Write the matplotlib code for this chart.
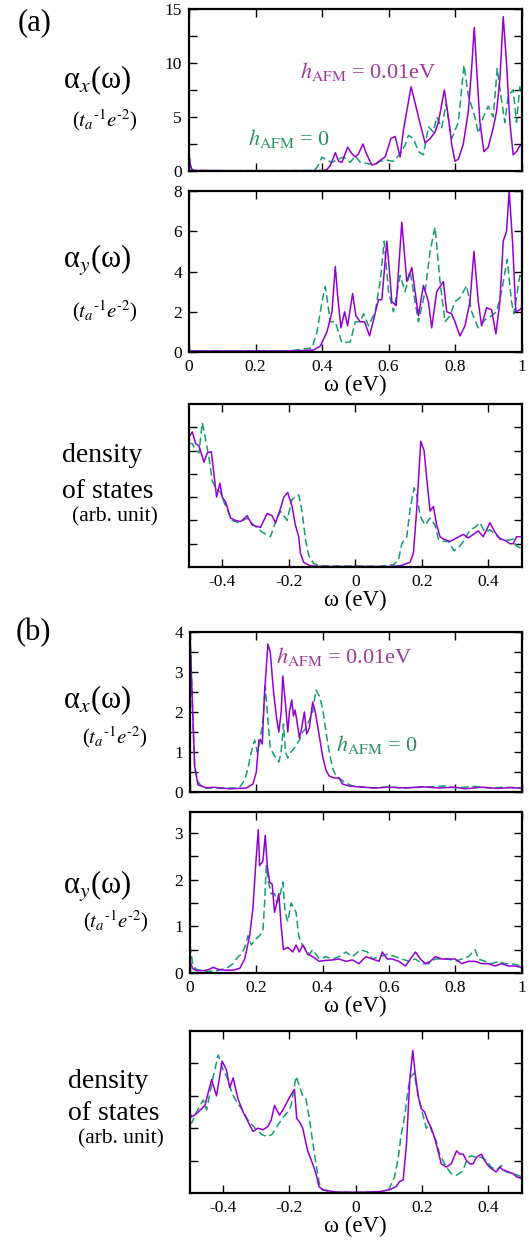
import numpy as np
import matplotlib
matplotlib.use("Agg")
import matplotlib.pyplot as plt
from matplotlib.ticker import MultipleLocator

plt.rcParams['font.family'] = ['Liberation Serif', 'DejaVu Serif']
plt.rcParams['mathtext.fontset'] = 'stix'

# (omega, value) points
# panel (a): alpha_x, solid = h_AFM 0.01eV, dashed = h_AFM 0
a_x_on = [(0, 1.4), (0.004, 0.6), (0.008, 0.15), (0.015, 0.05), (0.1, 0.03), (0.3, 0.03), (0.38, 0.03),
          (0.405, 0.05), (0.415, 0.15), (0.425, 0.5), (0.44, 1.7), (0.45, 0.9), (0.46, 0.8), (0.477, 2.2),
          (0.49, 1.6), (0.50, 1.3), (0.51, 1.6), (0.523, 2.5), (0.535, 1.5), (0.55, 0.55), (0.565, 0.7),
          (0.575, 1.0), (0.59, 1.3), (0.607, 3.0), (0.62, 3.2), (0.635, 1.3), (0.645, 3.8), (0.653, 5.2),
          (0.668, 7.8), (0.68, 6.3), (0.695, 4.4), (0.71, 2.6), (0.725, 3.0), (0.74, 3.6), (0.75, 4.5),
          (0.768, 7.5), (0.78, 5.0), (0.79, 2.5), (0.80, 0.9), (0.81, 1.1), (0.825, 2.5), (0.84, 5.5),
          (0.85, 9.5), (0.858, 13.3), (0.866, 9.0), (0.875, 4.5), (0.887, 1.8), (0.90, 2.2), (0.915, 4.0),
          (0.925, 5.5), (0.935, 8.5), (0.945, 14.3), (0.955, 10.0), (0.965, 4.5), (0.975, 1.5),
          (0.985, 1.8), (0.995, 2.35), (1.0, 2.4)]
a_x_off = [(0, 1.5), (0.004, 0.7), (0.008, 0.2), (0.015, 0.05), (0.1, 0.03), (0.3, 0.03), (0.36, 0.05),
           (0.38, 0.15), (0.39, 0.6), (0.40, 1.3), (0.415, 1.0), (0.43, 0.8), (0.45, 1.1), (0.465, 1.3),
           (0.485, 0.8), (0.50, 1.4), (0.515, 0.8), (0.535, 0.7), (0.555, 0.6), (0.575, 0.9), (0.595, 1.0),
           (0.615, 0.9), (0.635, 1.6), (0.65, 2.4), (0.66, 3.3), (0.675, 3.0), (0.69, 1.8), (0.705, 1.5),
           (0.72, 4.1), (0.735, 3.6), (0.745, 5.0), (0.76, 4.0), (0.773, 6.2), (0.79, 3.0), (0.81, 4.5),
           (0.827, 9.8), (0.84, 7.0), (0.86, 5.0), (0.87, 3.5), (0.885, 5.0), (0.90, 6.0), (0.915, 5.0),
           (0.927, 9.5), (0.94, 6.5), (0.95, 4.5), (0.96, 7.0), (0.975, 7.5), (0.985, 4.5), (0.995, 7.8),
           (1.0, 7.5)]

# panel (a): alpha_y
a_y_on = [(0, 0.05), (0.3, 0.05), (0.375, 0.1), (0.395, 0.3), (0.415, 1.0), (0.43, 2.0), (0.44, 4.25),
          (0.447, 2.8), (0.457, 1.2), (0.468, 2.0), (0.477, 1.3), (0.492, 2.9), (0.502, 1.8), (0.515, 1.5),
          (0.528, 1.5), (0.543, 0.8), (0.555, 1.6), (0.57, 2.6), (0.58, 2.6), (0.595, 5.5), (0.603, 4.0),
          (0.61, 2.5), (0.623, 2.3), (0.64, 6.45), (0.655, 3.5), (0.67, 4.2), (0.68, 3.0), (0.69, 1.8),
          (0.705, 3.3), (0.72, 2.5), (0.73, 1.2), (0.745, 3.0), (0.765, 3.5), (0.775, 2.0), (0.79, 1.9),
          (0.80, 1.5), (0.815, 0.8), (0.83, 1.3), (0.845, 2.5), (0.857, 5.0), (0.87, 2.5), (0.88, 1.3),
          (0.895, 2.2), (0.91, 2.1), (0.923, 0.9), (0.935, 2.5), (0.945, 5.5), (0.955, 6.0), (0.963, 8.0),
          (0.973, 5.5), (0.983, 2.0), (0.995, 2.1), (1.0, 2.2)]
a_y_off = [(0, 0.05), (0.3, 0.05), (0.37, 0.2), (0.385, 1.0), (0.40, 2.5), (0.41, 3.25), (0.425, 1.5),
           (0.44, 1.5), (0.46, 0.45), (0.485, 0.5), (0.50, 1.5), (0.515, 1.5), (0.525, 1.9), (0.54, 1.3),
           (0.56, 2.0), (0.575, 3.5), (0.587, 5.5), (0.60, 3.0), (0.615, 2.0), (0.635, 3.8), (0.65, 3.0),
           (0.665, 4.0), (0.675, 3.0), (0.69, 1.5), (0.71, 3.0), (0.725, 5.0), (0.74, 6.2), (0.755, 3.5),
           (0.77, 1.5), (0.785, 1.8), (0.80, 2.5), (0.815, 2.7), (0.835, 3.3), (0.85, 2.0), (0.87, 1.2),
           (0.89, 1.6), (0.91, 1.8), (0.925, 2.0), (0.94, 3.0), (0.957, 4.6), (0.97, 2.5), (0.977, 1.9),
           (0.995, 3.8), (1.0, 3.6)]

# panel (a): density of states
a_dos_on = [(-0.5, 5.6), (-0.49, 5.8), (-0.48, 5.3), (-0.47, 5.2), (-0.455, 4.5), (-0.445, 4.9),
            (-0.433, 4.95), (-0.425, 4.0), (-0.417, 3.0), (-0.407, 3.6), (-0.40, 3.0), (-0.39, 2.8),
            (-0.375, 2.1), (-0.36, 2.0), (-0.345, 1.95), (-0.325, 2.2), (-0.31, 1.8), (-0.285, 1.7),
            (-0.265, 2.3), (-0.25, 2.2), (-0.24, 1.9), (-0.225, 2.5), (-0.215, 3.0), (-0.203, 3.2),
            (-0.19, 2.6), (-0.18, 1.8), (-0.17, 1.3), (-0.165, 0.6), (-0.155, 0.2), (-0.135, 0.05),
            (-0.1, 0.02), (0.1, 0.02), (0.135, 0.05), (0.165, 0.2), (0.175, 0.6), (0.185, 2.5),
            (0.197, 5.4), (0.207, 5.0), (0.215, 3.8), (0.225, 2.4), (0.235, 2.6), (0.245, 1.8),
            (0.255, 1.3), (0.265, 1.2), (0.285, 1.1), (0.305, 1.25), (0.325, 1.4), (0.34, 1.25),
            (0.355, 1.4), (0.37, 1.55), (0.385, 1.3), (0.395, 1.6), (0.405, 1.9), (0.42, 1.5),
            (0.435, 1.2), (0.45, 1.15), (0.465, 1.0), (0.475, 1.0), (0.485, 1.3), (0.5, 1.3)]
a_dos_off = [(-0.5, 5.3), (-0.49, 5.3), (-0.48, 5.0), (-0.47, 4.9), (-0.46, 6.2), (-0.453, 5.7),
             (-0.44, 4.7), (-0.43, 3.7), (-0.42, 3.4), (-0.405, 3.2), (-0.395, 2.8), (-0.38, 2.3),
             (-0.37, 2.0), (-0.35, 1.9), (-0.325, 2.1), (-0.305, 1.8), (-0.28, 1.5), (-0.255, 1.3),
             (-0.24, 1.9), (-0.225, 2.4), (-0.205, 2.0), (-0.19, 2.9), (-0.17, 3.1), (-0.16, 2.4),
             (-0.15, 1.2), (-0.14, 0.5), (-0.125, 0.15), (-0.105, 0.05), (0.075, 0.03), (0.115, 0.1),
             (0.13, 0.3), (0.14, 1.0), (0.155, 1.3), (0.165, 2.5), (0.177, 3.4), (0.185, 3.1),
             (0.195, 2.2), (0.21, 1.8), (0.225, 2.1), (0.24, 1.8), (0.25, 1.2), (0.265, 1.1),
             (0.28, 1.1), (0.297, 0.7), (0.315, 0.9), (0.33, 1.2), (0.345, 1.6), (0.36, 1.7),
             (0.375, 1.9), (0.39, 1.5), (0.405, 1.6), (0.425, 1.35), (0.44, 1.2), (0.46, 1.15),
             (0.475, 1.2), (0.485, 0.9), (0.5, 0.8)]

# panel (b): alpha_x
b_x_on = [(0, 3.9), (0.004, 3.0), (0.009, 1.8), (0.014, 0.65), (0.024, 0.18), (0.05, 0.1), (0.07, 0.12),
          (0.12, 0.08), (0.17, 0.1), (0.19, 0.2), (0.2, 0.5), (0.208, 1.3), (0.213, 1.3), (0.218, 1.2),
          (0.225, 2.5), (0.235, 3.7), (0.242, 3.5), (0.252, 2.5), (0.262, 1.8), (0.268, 1.5), (0.275, 2.0),
          (0.28, 2.9), (0.288, 2.2), (0.295, 1.5), (0.30, 2.0), (0.307, 2.3), (0.312, 1.9), (0.317, 2.05),
          (0.322, 1.8), (0.33, 1.35), (0.337, 1.6), (0.345, 2.0), (0.352, 1.45), (0.36, 1.6), (0.37, 2.25),
          (0.378, 2.0), (0.39, 1.4), (0.40, 0.9), (0.41, 0.55), (0.42, 0.4), (0.435, 0.35), (0.45, 0.35),
          (0.46, 0.2), (0.48, 0.15), (0.52, 0.12), (0.56, 0.1), (0.6, 0.12), (0.65, 0.1), (0.7, 0.13),
          (0.75, 0.1), (0.8, 0.12), (0.83, 0.08), (0.88, 0.12), (0.93, 0.09), (0.97, 0.11), (1.0, 0.09)]
b_x_off = [(0, 4.0), (0.006, 2.5), (0.014, 0.6), (0.024, 0.25), (0.04, 0.1), (0.14, 0.1), (0.15, 0.12),
           (0.165, 0.3), (0.175, 0.6), (0.185, 1.0), (0.195, 1.3), (0.203, 1.0), (0.21, 1.2), (0.22, 1.8),
           (0.227, 2.65), (0.235, 1.8), (0.242, 1.1), (0.255, 0.9), (0.268, 0.75), (0.275, 1.0),
           (0.282, 1.7), (0.288, 1.0), (0.295, 0.85), (0.305, 1.0), (0.315, 1.1), (0.33, 1.3), (0.34, 1.5),
           (0.35, 1.6), (0.36, 1.8), (0.37, 2.0), (0.38, 2.55), (0.39, 2.4), (0.40, 2.1), (0.41, 1.5),
           (0.42, 1.0), (0.43, 0.6), (0.44, 0.4), (0.45, 0.35), (0.465, 0.25), (0.49, 0.15), (0.52, 0.13),
           (0.55, 0.1), (0.6, 0.13), (0.64, 0.1), (0.7, 0.12), (0.77, 0.15), (0.8, 0.1), (0.86, 0.14),
           (0.9, 0.1), (0.95, 0.12), (1.0, 0.1)]

# panel (b): alpha_y
b_y_on = [(0, 0.25), (0.008, 0.1), (0.02, 0.05), (0.04, 0.05), (0.055, 0.07), (0.07, 0.12), (0.085, 0.08),
          (0.105, 0.06), (0.13, 0.06), (0.15, 0.1), (0.165, 0.3), (0.18, 0.8), (0.19, 1.4), (0.198, 2.3),
          (0.206, 3.07), (0.21, 2.3), (0.22, 2.4), (0.227, 2.95), (0.233, 2.3), (0.24, 1.95), (0.248, 1.9),
          (0.255, 1.3), (0.262, 1.5), (0.268, 1.7), (0.275, 1.0), (0.282, 0.5), (0.295, 0.55), (0.31, 0.45),
          (0.32, 0.6), (0.33, 0.45), (0.34, 0.6), (0.355, 0.4), (0.37, 0.35), (0.39, 0.25), (0.41, 0.27),
          (0.43, 0.28), (0.45, 0.3), (0.47, 0.25), (0.49, 0.28), (0.51, 0.2), (0.53, 0.35), (0.55, 0.3),
          (0.57, 0.25), (0.58, 0.45), (0.595, 0.3), (0.61, 0.3), (0.63, 0.25), (0.65, 0.15), (0.665, 0.3),
          (0.68, 0.45), (0.695, 0.3), (0.71, 0.2), (0.725, 0.25), (0.74, 0.35), (0.76, 0.3), (0.78, 0.3),
          (0.80, 0.3), (0.82, 0.2), (0.84, 0.25), (0.86, 0.25), (0.88, 0.2), (0.90, 0.2), (0.92, 0.15),
          (0.94, 0.2), (0.96, 0.15), (0.98, 0.15), (1.0, 0.12)]
b_y_off = [(0, 0.6), (0.008, 0.2), (0.018, 0.08), (0.05, 0.03), (0.08, 0.05), (0.11, 0.1), (0.13, 0.2),
           (0.145, 0.35), (0.155, 0.4), (0.165, 0.55), (0.175, 0.8), (0.185, 0.6), (0.195, 0.7),
           (0.21, 0.8), (0.22, 0.9), (0.225, 1.5), (0.23, 2.3), (0.235, 2.0), (0.245, 1.7), (0.255, 1.7),
           (0.262, 1.5), (0.27, 1.6), (0.28, 1.95), (0.287, 1.3), (0.295, 1.1), (0.305, 1.5), (0.32, 1.3),
           (0.328, 0.8), (0.335, 0.65), (0.345, 0.55), (0.36, 0.4), (0.37, 0.5), (0.39, 0.3), (0.41, 0.35),
           (0.43, 0.3), (0.45, 0.35), (0.47, 0.45), (0.49, 0.35), (0.515, 0.5), (0.535, 0.45), (0.55, 0.3),
           (0.57, 0.35), (0.595, 0.4), (0.62, 0.35), (0.64, 0.3), (0.66, 0.25), (0.68, 0.3), (0.70, 0.2),
           (0.72, 0.2), (0.74, 0.3), (0.76, 0.3), (0.78, 0.3), (0.80, 0.25), (0.82, 0.3), (0.84, 0.35),
           (0.86, 0.5), (0.87, 0.3), (0.89, 0.25), (0.91, 0.2), (0.93, 0.25), (0.95, 0.2), (0.97, 0.2),
           (1.0, 0.15)]

# panel (b): density of states
b_dos_on = [(-0.5, 2.45), (-0.495, 2.35), (-0.48, 2.45), (-0.455, 2.7), (-0.435, 3.5), (-0.42, 3.0),
            (-0.403, 4.07), (-0.39, 3.8), (-0.38, 3.25), (-0.37, 3.55), (-0.355, 2.9), (-0.34, 2.5),
            (-0.325, 2.2), (-0.31, 1.9), (-0.295, 2.0), (-0.28, 1.95), (-0.265, 2.05), (-0.255, 2.25),
            (-0.245, 2.7), (-0.23, 2.4), (-0.215, 2.65), (-0.2, 2.95), (-0.185, 3.2), (-0.178, 2.3),
            (-0.17, 2.2), (-0.16, 2.0), (-0.145, 1.3), (-0.13, 0.9), (-0.12, 0.6), (-0.111, 0.2),
            (-0.1, 0.1), (-0.06, 0.03), (0.0, 0.02), (0.07, 0.04), (0.102, 0.1), (0.122, 0.2),
            (0.132, 0.35), (0.143, 0.4), (0.153, 1.5), (0.163, 3.5), (0.172, 4.4), (0.178, 3.8),
            (0.188, 3.0), (0.198, 2.6), (0.208, 2.5), (0.218, 2.2), (0.228, 2.0), (0.238, 1.7),
            (0.248, 1.3), (0.258, 0.9), (0.273, 0.8), (0.288, 0.9), (0.304, 1.3), (0.314, 1.2),
            (0.324, 1.2), (0.334, 1.0), (0.344, 0.9), (0.354, 0.9), (0.364, 1.1), (0.379, 1.2),
            (0.389, 1.0), (0.399, 0.85), (0.409, 0.75), (0.424, 0.65), (0.435, 0.8), (0.445, 0.7),
            (0.46, 0.65), (0.475, 0.6), (0.485, 0.5), (0.5, 0.45)]
b_dos_off = [(-0.5, 2.2), (-0.495, 2.16), (-0.48, 2.5), (-0.46, 2.87), (-0.45, 2.56), (-0.43, 3.58),
             (-0.415, 4.26), (-0.40, 3.8), (-0.385, 3.5), (-0.374, 3.1), (-0.359, 2.8), (-0.344, 2.6),
             (-0.325, 2.25), (-0.304, 2.0), (-0.283, 1.8), (-0.268, 1.75), (-0.253, 1.8), (-0.238, 2.05),
             (-0.218, 2.35), (-0.205, 2.5), (-0.195, 2.7), (-0.18, 3.6), (-0.17, 3.3), (-0.16, 3.0),
             (-0.15, 2.9), (-0.14, 2.3), (-0.13, 1.6), (-0.12, 0.9), (-0.11, 0.3), (-0.1, 0.1),
             (-0.07, 0.02), (0.09, 0.02), (0.102, 0.15), (0.117, 0.5), (0.127, 1.0), (0.137, 1.8),
             (0.148, 2.4), (0.158, 3.2), (0.166, 3.6), (0.176, 3.7), (0.185, 3.2), (0.193, 2.8),
             (0.203, 2.4), (0.213, 2.0), (0.223, 2.1), (0.233, 1.8), (0.243, 1.6), (0.253, 1.2),
             (0.263, 1.0), (0.273, 0.8), (0.288, 0.6), (0.304, 0.55), (0.319, 0.65), (0.329, 0.85),
             (0.339, 1.1), (0.349, 1.15), (0.364, 1.1), (0.379, 1.1), (0.394, 1.0), (0.409, 0.8),
             (0.424, 0.7), (0.439, 0.85), (0.455, 0.65), (0.475, 0.6), (0.5, 0.5)]

w_ticks = [0, 0.2, 0.4, 0.6, 0.8, 1.0]
w_labels = ['0', '0.2', '0.4', '0.6', '0.8', '1']
e_ticks = [-0.4, -0.2, 0, 0.2, 0.4]
e_labels = ['-0.4', '-0.2', '0', '0.2', '0.4']

PURPLE = '#9400d3'
GREEN = '#169b72'
PURPLE_TXT = '#9b3a9b'
GREEN_TXT = '#2a9060'

W, H = 531, 1241
fig = plt.figure(figsize=(W / 100, H / 100), dpi=100)


def box(l, t, r, b):
    return [l / W, 1 - b / H, (r - l) / W, (b - t) / H]


def put(x, y, s, **kw):
    fig.text(x / W, 1 - y / H, s, **kw)


def panel(rect, on, off, xlim, xt, xl, show_x, ylim, major, minor, ylabels=True):
    ax = fig.add_axes(rect)
    w1, v1 = np.array(on).T
    w0, v0 = np.array(off).T
    ax.plot(w0, v0, color=GREEN, lw=1.1, dashes=(5, 2.5))
    ax.plot(w1, v1, color=PURPLE, lw=1.1)
    ax.set_xlim(*xlim)
    ax.set_ylim(*ylim)
    ax.set_xticks(xt)
    if show_x:
        ax.set_xticklabels(xl)
        ax.set_xlabel('ω (eV)', fontsize=16.5, labelpad=0)
    else:
        ax.set_xticklabels([])
    ax.yaxis.set_major_locator(MultipleLocator(major))
    if minor:
        ax.yaxis.set_minor_locator(MultipleLocator(minor))
    if not ylabels:
        ax.set_yticklabels([])
    ax.tick_params(which='both', direction='in', top=True, right=True,
                   length=6, width=1.0, labelsize=12.5, pad=5)
    for s in ax.spines.values():
        s.set_linewidth(1.6)
    return ax


# (a)
ax1 = panel(box(189, 9, 521.5, 171), a_x_on, a_x_off, (0, 1), w_ticks, w_labels, False, (0, 15), 5, 2.5)
ax2 = panel(box(189, 191, 521.5, 352), a_y_on, a_y_off, (0, 1), w_ticks, w_labels, True, (0, 8), 2, None)
ax3 = panel(box(189, 404, 521.5, 567), a_dos_on, a_dos_off, (-0.5, 0.5), e_ticks, e_labels, True,
            (0, 7), 1, None, ylabels=False)
# (b)
ax4 = panel(box(190, 632, 521.5, 792), b_x_on, b_x_off, (0, 1), w_ticks, w_labels, False, (0, 4), 1, 0.5)
ax5 = panel(box(190, 812, 521.5, 973), b_y_on, b_y_off, (0, 1), w_ticks, w_labels, True, (0, 3.45), 1, 0.5)
ax6 = panel(box(190, 1031, 521.5, 1193), b_dos_on, b_dos_off, (-0.5, 0.5), e_ticks, e_labels, True,
            (0, 5), 1, None, ylabels=False)

for ax in (ax3, ax6):
    ax.set_yticks([t for t in ax.get_yticks() if 0 < t < ax.get_ylim()[1] - 0.01])
    ax.set_yticklabels([])

# curve labels
lab_on = r'$h_{\mathrm{AFM}}$ = 0.01eV'
lab_off = r'$h_{\mathrm{AFM}}$ = 0'
ax1.text(0.54, 9.2, lab_on, color=PURPLE_TXT, fontsize=16, ha='center', va='center')
ax1.text(0.30, 3.0, lab_off, color=GREEN_TXT, fontsize=16, ha='center', va='center')
ax4.text(0.465, 3.38, lab_on, color=PURPLE_TXT, fontsize=16, ha='center', va='center')
ax4.text(0.565, 1.2, lab_off, color=GREEN_TXT, fontsize=16, ha='center', va='center')

# left-hand labels
ax_lab = r'α$_{\mathit{x}}$(ω)'
ay_lab = r'α$_{\mathit{y}}$(ω)'
unit_lab = r'($t_a{}^{\text{-1}}e^{\text{-2}}$)'

put(35, 23, '(a)', fontsize=22, ha='center', va='center')
put(97, 80, ax_lab, fontsize=22, ha='center', va='center')
put(105, 120, unit_lab, fontsize=15, ha='center', va='center')
put(97, 261, ay_lab, fontsize=22, ha='center', va='center')
put(105, 311, unit_lab, fontsize=15, ha='center', va='center')
put(62, 456, 'density', fontsize=20, ha='left', va='center')
put(62, 492, 'of states', fontsize=20, ha='left', va='center')
put(72, 517, '(arb. unit)', fontsize=15.5, ha='left', va='center')

put(33, 633, '(b)', fontsize=22, ha='center', va='center')
put(97, 700, ax_lab, fontsize=22, ha='center', va='center')
put(115, 737, unit_lab, fontsize=15, ha='center', va='center')
put(97, 886, ay_lab, fontsize=22, ha='center', va='center')
put(116, 921, unit_lab, fontsize=15, ha='center', va='center')
put(68, 1081, 'density', fontsize=20, ha='left', va='center')
put(68, 1114, 'of states', fontsize=20, ha='left', va='center')
put(78, 1139, '(arb. unit)', fontsize=15.5, ha='left', va='center')

fig.savefig('out.png', dpi=100)
